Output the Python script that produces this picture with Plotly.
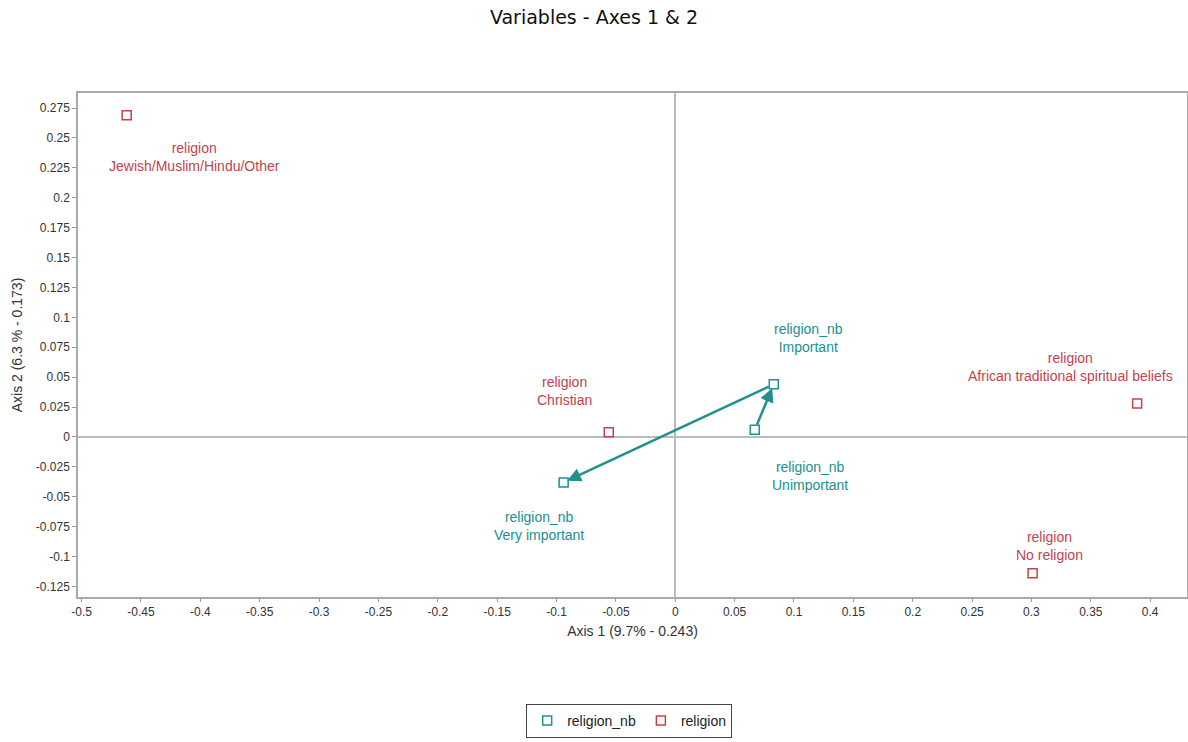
import plotly.graph_objects as go

# Coordinates of the categories on the first two factorial axes
religion_labels = ["Jewish/Muslim/Hindu/Other", "Christian",
                   "African traditional spiritual beliefs", "No religion"]
religion_ax1 = [-0.462, -0.056, 0.389, 0.301]
religion_ax2 = [0.269, 0.004, 0.028, -0.114]

religion_nb_labels = ["Important", "Unimportant", "Very important"]
religion_nb_ax1 = [0.083, 0.067, -0.094]
religion_nb_ax2 = [0.044, 0.006, -0.038]

x_ticks = [-0.5, -0.45, -0.4, -0.35, -0.3, -0.25, -0.2, -0.15, -0.1, -0.05,
           0, 0.05, 0.1, 0.15, 0.2, 0.25, 0.3, 0.35, 0.4]
y_ticks = [-0.125, -0.1, -0.075, -0.05, -0.025, 0, 0.025, 0.05, 0.075, 0.1,
           0.125, 0.15, 0.175, 0.2, 0.225, 0.25, 0.275]

RED = "#c2434b"
TEAL = "#21908e"
FONT = "Liberation Sans, Arial, sans-serif"

fig = go.Figure()
fig.add_trace(go.Scatter(
    x=religion_nb_ax1, y=religion_nb_ax2, mode="markers", name="religion_nb",
    marker=dict(symbol="square-open", size=9, color=TEAL, line=dict(width=1.5)),
))
fig.add_trace(go.Scatter(
    x=religion_ax1, y=religion_ax2, mode="markers", name="religion",
    marker=dict(symbol="square-open", size=9, color=RED, line=dict(width=1.5)),
))

# Label offsets (pixels) for each category name
religion_shift = [(68, -42), (-44, 41), (-67, 36), (17, 27)]
religion_nb_shift = [(35, 46), (55, -46), (-25, -44)]

LABEL_SIZE = 14

annotations = []
for lab, x, y, (dx, dy) in zip(religion_labels, religion_ax1, religion_ax2, religion_shift):
    annotations.append(dict(x=x, y=y, xref="x", yref="y", text="religion<br>" + lab,
                            showarrow=False, xshift=dx, yshift=dy,
                            font=dict(family=FONT, size=LABEL_SIZE, color=RED)))
for lab, x, y, (dx, dy) in zip(religion_nb_labels, religion_nb_ax1, religion_nb_ax2, religion_nb_shift):
    annotations.append(dict(x=x, y=y, xref="x", yref="y", text="religion_nb<br>" + lab,
                            showarrow=False, xshift=dx, yshift=dy,
                            font=dict(family=FONT, size=LABEL_SIZE, color=TEAL)))

# Ordinal trajectory: Unimportant -> Important -> Very important
path = [1, 0, 2]
for a, b in zip(path[:-1], path[1:]):
    annotations.append(dict(
        x=religion_nb_ax1[b], y=religion_nb_ax2[b], ax=religion_nb_ax1[a], ay=religion_nb_ax2[a],
        xref="x", yref="y", axref="x", ayref="y", text="", showarrow=True,
        arrowhead=2, arrowsize=1.1, arrowwidth=2.5, arrowcolor=TEAL,
        standoff=4, startstandoff=4,
    ))

fig.update_layout(
    width=1188, height=742,
    margin=dict(l=78, r=1, t=93, b=145, autoexpand=False),
    paper_bgcolor="white", plot_bgcolor="white",
    title=dict(text="Variables - Axes 1 & 2", x=0.5, xanchor="center", y=0.977, yanchor="middle",
               font=dict(family="DejaVu Sans, Verdana, sans-serif", size=19, color="#111")),
    font=dict(family=FONT, size=12, color="#333"),
    showlegend=True,
    legend=dict(orientation="h", x=0.497, xanchor="center", y=-0.212, yanchor="top",
                bordercolor="#444", borderwidth=1, font=dict(family=FONT, size=14, color="#222"),
                itemwidth=30, tracegroupgap=0),
    annotations=annotations,
)

fig.update_xaxes(
    range=[-0.503, 0.431], tickvals=x_ticks, ticktext=[f"{v:g}" for v in x_ticks],
    ticks="outside", ticklen=3, tickcolor="#999", showgrid=False,
    zeroline=True, zerolinecolor="#bbbbbb", zerolinewidth=1.5,
    showline=True, linecolor="#aaaaaa", linewidth=1.5, mirror=True,
    title=dict(text="Axis 1 (9.7% - 0.243)", font=dict(family=FONT, size=14, color="#333"), standoff=8),
    tickfont=dict(family=FONT, size=12, color="#333"),
)
fig.update_yaxes(
    range=[-0.1338, 0.2876], tickvals=y_ticks, ticktext=[f"{v:g}" for v in y_ticks],
    ticks="outside", ticklen=4, tickcolor="#999", showgrid=False,
    zeroline=True, zerolinecolor="#bbbbbb", zerolinewidth=1.5,
    showline=True, linecolor="#aaaaaa", linewidth=1.5, mirror=True,
    title=dict(text="Axis 2 (6.3 % - 0.173)", font=dict(family=FONT, size=14, color="#333"), standoff=10),
    tickfont=dict(family=FONT, size=12, color="#333"),
)

fig.write_html("out.html")
